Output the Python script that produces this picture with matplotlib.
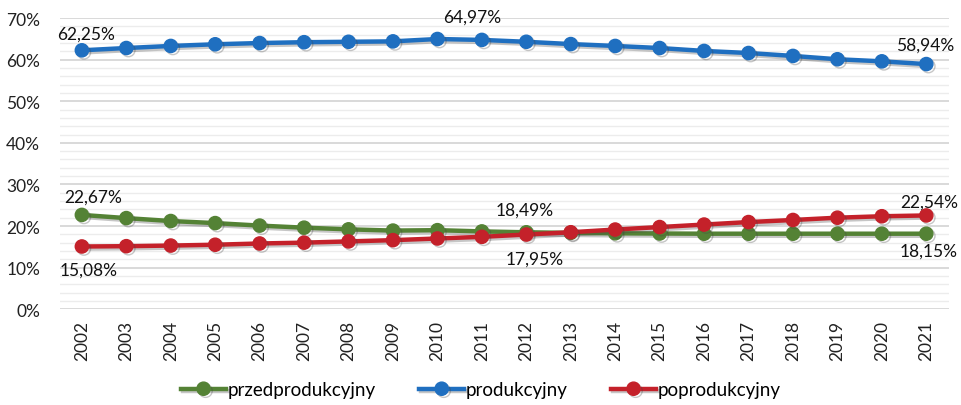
import matplotlib
matplotlib.use("Agg")
import matplotlib.pyplot as plt
import matplotlib.patheffects as pe
from matplotlib.ticker import MultipleLocator, FuncFormatter

# --- dane ---
lata = [str(r) for r in range(2002, 2022)]
przedprodukcyjny = [22.67, 21.9, 21.2, 20.7, 20.1, 19.6, 19.2, 18.9, 19.0, 18.7,
                    18.49, 18.35, 18.25, 18.2, 18.15, 18.15, 18.15, 18.15, 18.15, 18.15]
produkcyjny = [62.25, 62.8, 63.3, 63.7, 64.0, 64.2, 64.3, 64.4, 64.97, 64.75,
               64.3, 63.75, 63.3, 62.8, 62.1, 61.6, 60.9, 60.1, 59.6, 58.94]
poprodukcyjny = [15.08, 15.15, 15.3, 15.5, 15.8, 16.0, 16.3, 16.6, 17.0, 17.4,
                 17.95, 18.5, 19.15, 19.75, 20.35, 20.95, 21.45, 22.0, 22.35, 22.54]

plt.rcParams['font.family'] = ['Lato', 'DejaVu Sans']

fig = plt.figure(figsize=(9.62, 4.06), dpi=100)
ax = fig.add_axes([0.062, 0.236, 0.924, 0.717])

x = range(len(lata))
cien = [pe.SimpleLineShadow(offset=(1.5, -1.5), alpha=0.3, shadow_color='#444444'), pe.Normal()]

serie = [
    ('przedprodukcyjny', przedprodukcyjny, '#548235'),
    ('produkcyjny', produkcyjny, '#1f6fc0'),
    ('poprodukcyjny', poprodukcyjny, '#c4212a'),
]
for nazwa, wart, kolor in serie:
    ax.plot(x, wart, color=kolor, lw=3.2, marker='o', ms=9.5, label=nazwa,
            path_effects=cien, zorder=3)

ax.set_ylim(0, 70)
ax.set_xlim(-0.5, len(lata) - 0.5)
ax.yaxis.set_major_locator(MultipleLocator(10))
ax.yaxis.set_minor_locator(MultipleLocator(2))
ax.yaxis.set_major_formatter(FuncFormatter(lambda v, p: f"{v:.0f}%"))
ax.grid(axis='y', which='major', color='#d0d0d0', lw=1.1)
ax.grid(axis='y', which='minor', color='#ececec', lw=1.0)
ax.set_axisbelow(True)
ax.set_xticks(list(x))
ax.set_xticklabels(lata, rotation=90)
ax.tick_params(axis='both', which='both', length=0, labelsize=12.5, colors='#222222')
ax.tick_params(axis='y', pad=14)
ax.tick_params(axis='x', pad=8)
for s in ax.spines.values():
    s.set_visible(False)

def etykieta(i, wart, dx, dy):
    ax.annotate(f"{wart[i]:.2f}%".replace('.', ','), (i, wart[i]),
                xytext=(dx, dy), textcoords='offset points',
                ha='center', va='center', fontsize=12.5, color='#111111')

etykieta(0, produkcyjny, 3, 12)
etykieta(8, produkcyjny, 25, 16)
etykieta(19, produkcyjny, -1, 14)
etykieta(0, przedprodukcyjny, 8, 13)
etykieta(10, przedprodukcyjny, -1, 16)
etykieta(19, przedprodukcyjny, 2, -12)
etykieta(0, poprodukcyjny, 5, -17)
etykieta(10, poprodukcyjny, 6, -17)
etykieta(19, poprodukcyjny, 2, 10)

fig.legend(loc='lower center', ncol=3, frameon=False, fontsize=13.5,
           bbox_to_anchor=(0.5, -0.025), handlelength=2.4, columnspacing=2.3,
           handletextpad=0.1)

fig.savefig('out.png', dpi=100)
